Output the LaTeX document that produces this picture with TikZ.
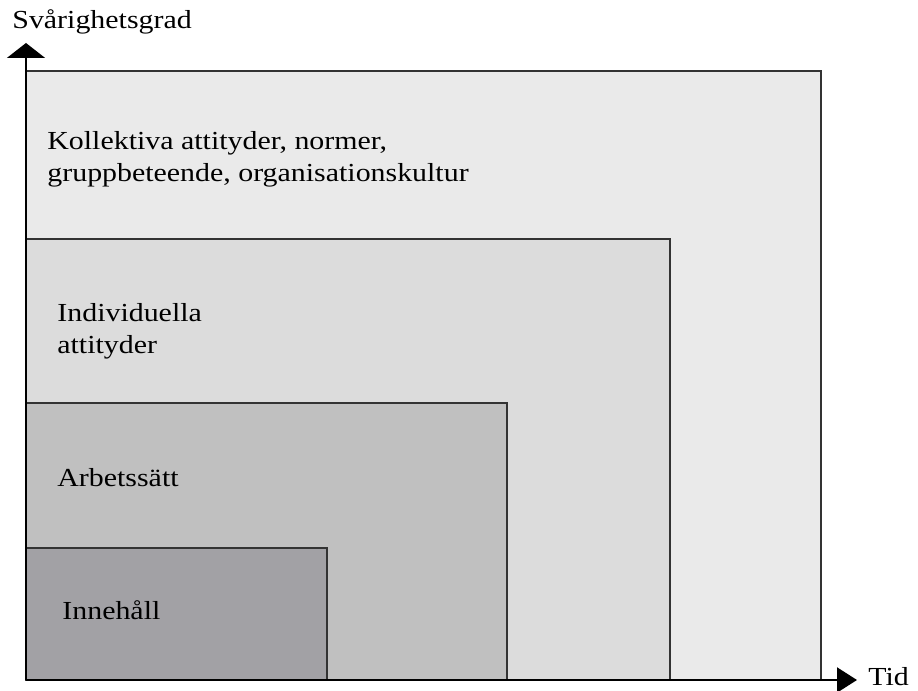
\documentclass[tikz,border=0pt]{standalone}
\usepackage{fontspec}
\setmainfont[FakeStretch=1.15]{Liberation Serif}
\usepackage{xcolor}
\usetikzlibrary{arrows.meta}

\definecolor{lvlA}{HTML}{EAEAEA}
\definecolor{lvlB}{HTML}{DCDCDC}
\definecolor{lvlC}{HTML}{C0C0C0}
\definecolor{lvlD}{HTML}{A2A1A5}

\begin{document}
\begin{tikzpicture}[
      x=0.5pt, y=0.5pt,
      font=\fontsize{13}{16}\selectfont,
      layer/.style={draw=black!80, line width=1pt},
      axis/.style={line width=1pt, draw=black},
      lbl/.style={anchor=base west, inner sep=0pt, align=left}]

    \useasboundingbox (0,0) rectangle (918,691);

    % nested levels, largest first
    \coordinate (o) at (26,11);
    \draw[layer, fill=lvlA] (o) rectangle (821,620);
    \draw[layer, fill=lvlB] (o) rectangle (670,452);
    \draw[layer, fill=lvlC] (o) rectangle (507,288);
    \draw[layer, fill=lvlD] (o) rectangle (327,143);

    % base of a two-line label sits on its last line
    \node[lbl] (kollektiv) at (47,509)
      {Kollektiva attityder, normer,\\ gruppbeteende, organisationskultur};
    \node[lbl] (individ) at (57,337) {Individuella\\ attityder};
    \node[lbl] (arbete) at (57,204) {Arbetssätt};
    \node[lbl] (innehall) at (62,71) {Innehåll};

    % axes
    \coordinate (ytop) at (26,648);
    \coordinate (xend) at (857,11);
    \draw[axis, -{Triangle[length=7.5pt,width=19pt]}] (o) -- (ytop);
    \draw[axis, -{Triangle[length=10pt,width=12.5pt]}] (o) -- (xend);

    \node[lbl] (ylab) at (12,662) {Svårighetsgrad};
    \node[lbl] (xlab) at (868,5) {Tid};
  \end{tikzpicture}
\end{document}
